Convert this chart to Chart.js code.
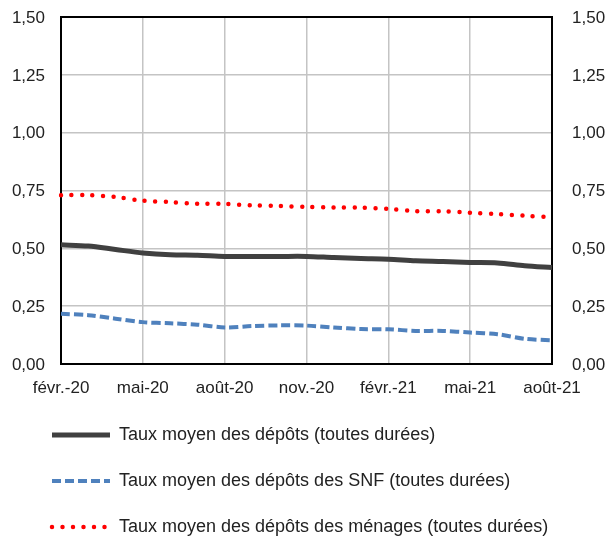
<!DOCTYPE html>
<html>
<head>
<meta charset="utf-8">
<script src="https://cdn.jsdelivr.net/npm/chart.js@4"></script>
<style>
  html, body { margin: 0; padding: 0; background: #ffffff; }
  #wrap { width: 611px; height: 540px; }
</style>
</head>
<body>
<div id="wrap"><canvas id="c" width="611" height="540"></canvas></div>
<script>
const months = ['févr.-20','mars-20','avr.-20','mai-20','juin-20','juil.-20','août-20','sept.-20','oct.-20','nov.-20','déc.-20','janv.-21','févr.-21','mars-21','avr.-21','mai-21','juin-21','juil.-21','août-21'];
const tauxMoyen = [0.515, 0.510, 0.495, 0.480, 0.472, 0.470, 0.465, 0.465, 0.465, 0.465, 0.460, 0.456, 0.453, 0.446, 0.443, 0.439, 0.437, 0.425, 0.417];
const tauxSNF = [0.217, 0.211, 0.196, 0.181, 0.176, 0.170, 0.158, 0.164, 0.167, 0.166, 0.158, 0.151, 0.150, 0.143, 0.143, 0.136, 0.129, 0.109, 0.102];
const tauxMenages = [0.730, 0.730, 0.722, 0.706, 0.700, 0.693, 0.692, 0.686, 0.683, 0.679, 0.677, 0.676, 0.670, 0.661, 0.660, 0.654, 0.648, 0.641, 0.635];
const seriesNames = ['Taux moyen des dépôts (toutes durées)', 'Taux moyen des dépôts des SNF (toutes durées)', 'Taux moyen des dépôts des ménages (toutes durées)'];
const yMin = 0, yMax = 1.5, yStep = 0.25;

const fmt = v => Number(v).toFixed(2).replace('.', ',');
const FONT = {family: '"Liberation Sans", Arial, sans-serif', size: 17};
const LEGEND_FONT = {family: '"Liberation Sans", Arial, sans-serif', size: 18};
const TXT = '#222222';
const NONE = 'rgba(0,0,0,0)';
const GRID = '#c4c4c4';

const borderPlugin = {
  id: 'plotBorder',
  afterLayout(chart) {
    if (chart.legend) { chart.legend.left += 24; }
  },
  beforeDatasetsDraw(chart) {
    const {ctx, chartArea: a} = chart;
    ctx.save();
    ctx.strokeStyle = '#000000';
    ctx.lineWidth = 2;
    ctx.strokeRect(a.left, a.top, a.right - a.left, a.bottom - a.top);
    ctx.restore();
  }
};

new Chart(document.getElementById('c'), {
  type: 'line',
  data: {
    labels: months,
    datasets: [
      {label: seriesNames[0], data: tauxMoyen, borderColor: '#404040', backgroundColor: '#404040', borderWidth: 5, pointRadius: 0, tension: 0.3, borderCapStyle: 'butt', borderDash: []},
      {label: seriesNames[1], data: tauxSNF, borderColor: '#4F81BD', backgroundColor: '#4F81BD', borderWidth: 4, pointRadius: 0, tension: 0.3, borderCapStyle: 'butt', borderDash: [9, 4]},
      {label: seriesNames[2], data: tauxMenages, borderColor: '#FF0000', backgroundColor: '#FF0000', borderWidth: 4.5, pointRadius: 0, tension: 0.3, borderCapStyle: 'round', borderDash: [0, 10.5]}
    ]
  },
  options: {
    responsive: false,
    animation: false,
    devicePixelRatio: 1,
    layout: {padding: {left: 0, right: 0, top: 17, bottom: -6}},
    plugins: {
      tooltip: {enabled: false},
      legend: {
        position: 'bottom',
        align: 'start',
        labels: {
          font: LEGEND_FONT,
          color: TXT,
          padding: 28,
          usePointStyle: true,
          pointStyleWidth: 58,
          boxHeight: 18,
          generateLabels: chart => chart.data.datasets.map((ds, i) => ({
            text: ds.label,
            fillStyle: ds.borderColor,
            strokeStyle: ds.borderColor,
            lineWidth: ds.borderWidth,
            lineDash: ds.borderDash,
            lineCap: ds.borderCapStyle,
            pointStyle: 'line',
            hidden: false,
            datasetIndex: i,
            fontColor: TXT
          }))
        }
      }
    },
    scales: {
      x: {
        type: 'category',
        offset: false,
        afterFit: s => { s.height = 34; },
        border: {display: false},
        grid: {
          drawTicks: false,
          lineWidth: 1.5,
          color: c => (c.index % 3 === 0 ? GRID : NONE)
        },
        ticks: {
          autoSkip: false,
          maxRotation: 0,
          padding: 14,
          font: FONT,
          color: TXT,
          callback: function (v, i) { return i % 3 === 0 ? this.getLabelForValue(v) : ''; }
        }
      },
      y: {
        position: 'left',
        min: yMin, max: yMax,
        afterFit: s => { s.width = 61; },
        border: {display: false},
        grid: {drawTicks: true, tickLength: 16, tickColor: NONE, color: GRID, lineWidth: 1.5},
        ticks: {stepSize: yStep, padding: 0, labelOffset: 1, font: FONT, color: TXT, callback: v => fmt(v)}
      },
      y1: {
        position: 'right',
        min: yMin, max: yMax,
        afterFit: s => { s.width = 59; },
        border: {display: false},
        grid: {display: true, drawOnChartArea: false, drawTicks: true, tickLength: 20, tickColor: NONE, color: NONE},
        ticks: {stepSize: yStep, padding: 0, labelOffset: 1, font: FONT, color: TXT, callback: v => fmt(v)}
      }
    }
  },
  plugins: [borderPlugin]
});
</script>
</body>
</html>
